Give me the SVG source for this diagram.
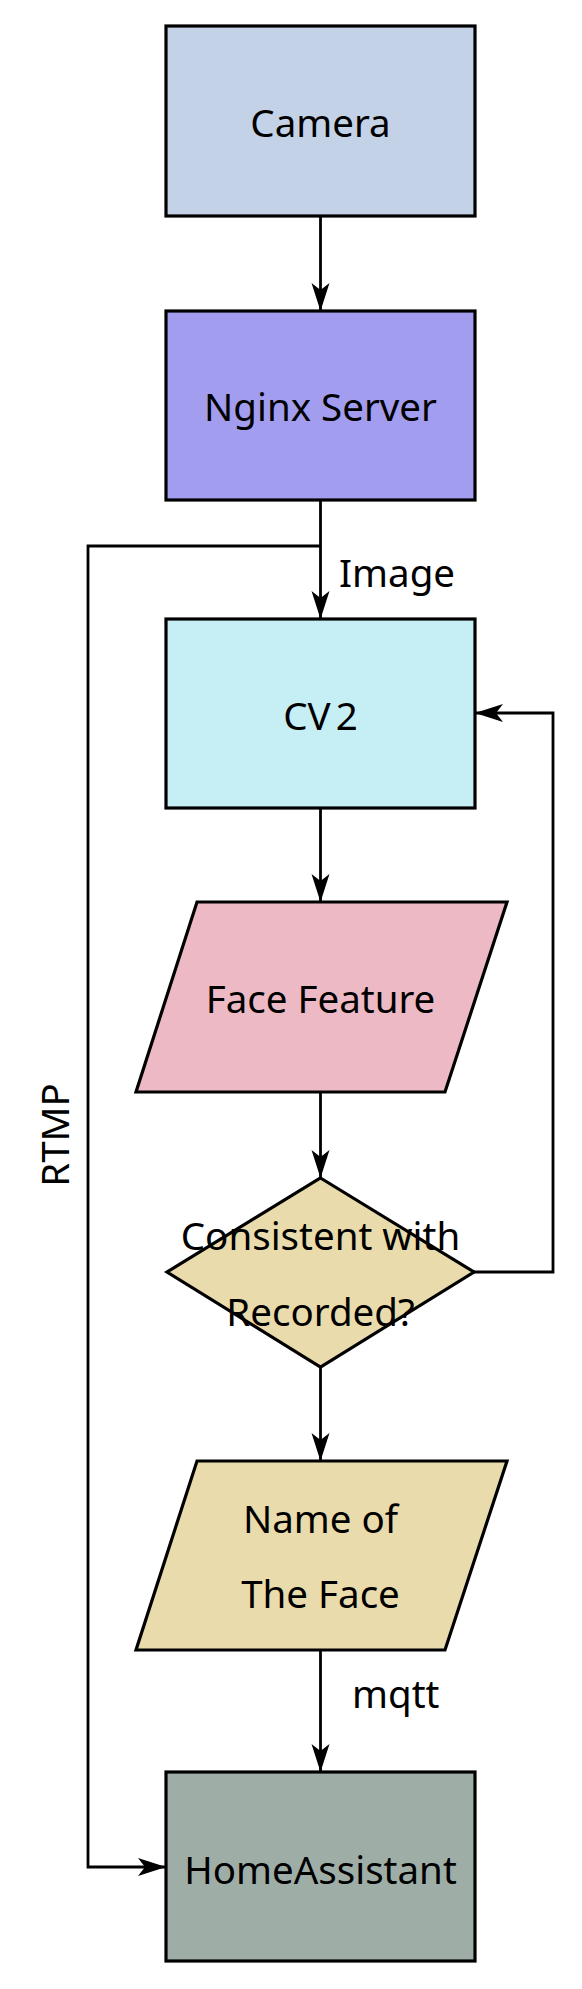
<svg xmlns="http://www.w3.org/2000/svg" width="582" height="1989" viewBox="0 0 582 1989">
<style>
.node{stroke:#000;stroke-width:3.2;stroke-linejoin:miter}
.lbl{font-family:"Noto Sans","Open Sans","DejaVu Sans",sans-serif;font-size:38.5px;fill:#000;text-anchor:middle}
.elbl{font-family:"Noto Sans","Open Sans","DejaVu Sans",sans-serif;font-size:38.5px;fill:#000}
.conn{fill:none;stroke:#000;stroke-width:2.8}
</style>
<defs>
<marker id="arr" markerUnits="userSpaceOnUse" markerWidth="32" markerHeight="22" viewBox="0 -11 30 22" refX="28" refY="0" orient="auto">
<path d="M0,-9 L28,0 L0,9 L7,0 Z" fill="#000"/>
</marker>
</defs>
<rect width="582" height="1989" fill="#fff"/>
<g id="connectors">
<path class="conn" d="M320.5,216 V311" marker-end="url(#arr)"/>
<path class="conn" d="M320.5,500 V619" marker-end="url(#arr)"/>
<path class="conn" d="M320.5,546 H88 V1867 H166" marker-end="url(#arr)"/>
<path class="conn" d="M320.5,808 V902" marker-end="url(#arr)"/>
<path class="conn" d="M320.5,1092 V1178" marker-end="url(#arr)"/>
<path class="conn" d="M474,1272 H553 V713 H475" marker-end="url(#arr)"/>
<path class="conn" d="M320.5,1367 V1461" marker-end="url(#arr)"/>
<path class="conn" d="M320.5,1650 V1772" marker-end="url(#arr)"/>
<text class="elbl" x="339" y="587">Image</text>
<text class="elbl" x="352" y="1708">mqtt</text>
<text class="lbl" transform="translate(69,1135) rotate(-90)">RTMP</text>
</g>
<g id="camera">
<rect class="node" x="166" y="26" width="309" height="190" fill="#C3D2E7"/>
<text class="lbl" x="320.5" y="137">Camera</text>
</g>
<g id="nginx">
<rect class="node" x="166" y="311" width="309" height="189" fill="#A29DEF"/>
<text class="lbl" x="320.5" y="421">Nginx Server</text>
</g>
<g id="cv2">
<rect class="node" x="166" y="619" width="309" height="189" fill="#C6EFF5"/>
<text class="lbl" x="320.5" y="730">CV<tspan dx="5">2</tspan></text>
</g>
<g id="face-feature">
<polygon class="node" points="197,902 507,902 445,1092 136,1092" fill="#EDB9C4"/>
<text class="lbl" x="320.5" y="1013">Face Feature</text>
</g>
<g id="decision">
<polygon class="node" points="320.5,1178 474,1272 320.5,1367 167,1272" fill="#E9DBAB"/>
<text class="lbl" x="320.5" y="1250">Consistent with</text>
<text class="lbl" x="320.5" y="1326">Recorded?</text>
</g>
<g id="name-of-face">
<polygon class="node" points="197,1461 507,1461 445,1650 136,1650" fill="#E9DBAB"/>
<text class="lbl" x="320.5" y="1533">Name of</text>
<text class="lbl" x="320.5" y="1608">The Face</text>
</g>
<g id="homeassistant">
<rect class="node" x="166" y="1772" width="309" height="189" fill="#9FADA7"/>
<text class="lbl" x="320.5" y="1884">HomeAssistant</text>
</g>
</svg>
